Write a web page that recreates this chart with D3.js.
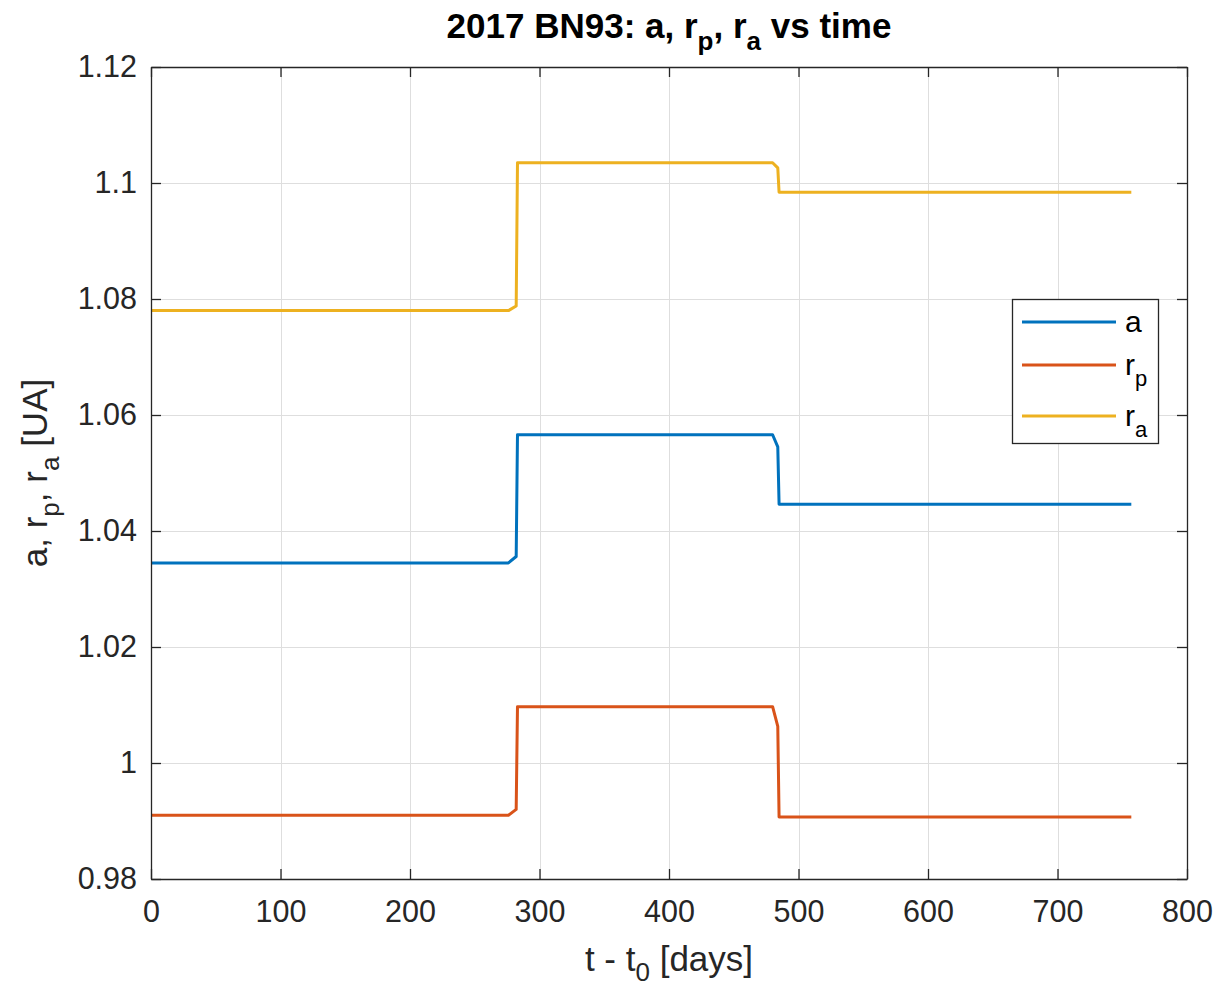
<!DOCTYPE html>
<html>
<head>
<meta charset="utf-8">
<script src="https://cdn.jsdelivr.net/npm/d3@7"></script>
<style>
  html, body { margin: 0; padding: 0; background: #fff; }
  svg { display: block; font-family: "Liberation Sans", Arial, Helvetica, sans-serif; }
</style>
</head>
<body>
<svg id="chart" width="1226" height="986"></svg>
<script>
// Time since epoch (days) at each breakpoint of the propagated orbit
const days = [0, 276, 282, 283, 480, 484, 485, 757];
// Semi-major axis a [UA]
const aVals  = [1.0345, 1.0345, 1.0356, 1.0566, 1.0566, 1.0545, 1.0446, 1.0446];
// Perihelion distance r_p [UA]
const rpVals = [0.9910, 0.9910, 0.9920, 1.0097, 1.0097, 1.0063, 0.9907, 0.9907];
// Aphelion distance r_a [UA]
const raVals = [1.0780, 1.0780, 1.0788, 1.1035, 1.1035, 1.1026, 1.0984, 1.0984];

const xTicks = [0, 100, 200, 300, 400, 500, 600, 700, 800];
const yTicks = [0.98, 1.00, 1.02, 1.04, 1.06, 1.08, 1.10, 1.12];
const yTickLabels = ["0.98", "1", "1.02", "1.04", "1.06", "1.08", "1.1", "1.12"];

const series = [
  { name: "a",  sub: null, values: aVals,  color: "#0072BD" },
  { name: "r",  sub: "p",  values: rpVals, color: "#D95319" },
  { name: "r",  sub: "a",  values: raVals, color: "#EDB120" }
];

const svg = d3.select("#chart");
const plot = { left: 151, right: 1187, top: 67, bottom: 879 };
const axisColor = "#262626";

const x = d3.scaleLinear().domain([0, 800]).range([plot.left, plot.right]);
const y = d3.scaleLinear().domain([0.98, 1.12]).range([plot.bottom, plot.top]);

// Grid
const grid = svg.append("g").attr("stroke", "#dedede").attr("stroke-width", 1);
grid.selectAll("line.gx").data(xTicks.slice(1, -1)).join("line")
  .attr("x1", d => Math.round(x(d)) + 0.5).attr("x2", d => Math.round(x(d)) + 0.5)
  .attr("y1", plot.top).attr("y2", plot.bottom);
grid.selectAll("line.gy").data(yTicks.slice(1, -1)).join("line")
  .attr("y1", d => Math.round(y(d)) + 0.5).attr("y2", d => Math.round(y(d)) + 0.5)
  .attr("x1", plot.left).attr("x2", plot.right);

// Series lines
const line = d3.line().x((d, i) => x(days[i])).y(d => y(d));
svg.append("g").selectAll("path").data(series).join("path")
  .attr("d", s => line(s.values))
  .attr("fill", "none")
  .attr("stroke", s => s.color)
  .attr("stroke-width", 3)
  .attr("stroke-linejoin", "round");

// Axes (box with inward ticks on all sides)
const tickLen = 10;
const xAxisB = d3.axisBottom(x).tickValues(xTicks).tickSizeInner(-tickLen).tickSizeOuter(0).tickPadding(21);
const xAxisT = d3.axisTop(x).tickValues(xTicks).tickSizeInner(-tickLen).tickSizeOuter(0).tickFormat("");
const yAxisL = d3.axisLeft(y).tickValues(yTicks).tickSizeInner(-tickLen).tickSizeOuter(0).tickPadding(14)
  .tickFormat((d, i) => yTickLabels[i]);
const yAxisR = d3.axisRight(y).tickValues(yTicks).tickSizeInner(-tickLen).tickSizeOuter(0).tickFormat("");

function styleAxis(g) {
  g.attr("font-family", null);
  g.select(".domain").attr("stroke", axisColor).attr("stroke-width", 1.3);
  g.selectAll(".tick line").attr("stroke", axisColor).attr("stroke-width", 1.3);
  g.selectAll(".tick text").attr("fill", axisColor).attr("font-size", 30.5);
}
svg.append("g").attr("transform", `translate(0,${plot.bottom})`).call(xAxisB).call(styleAxis);
svg.append("g").attr("transform", `translate(0,${plot.top})`).call(xAxisT).call(styleAxis);
svg.append("g").attr("transform", `translate(${plot.left},0)`).call(yAxisL).call(styleAxis);
svg.append("g").attr("transform", `translate(${plot.right},0)`).call(yAxisR).call(styleAxis);

// Title
const title = svg.append("text")
  .attr("x", (plot.left + plot.right) / 2).attr("y", 38)
  .attr("text-anchor", "middle").attr("font-weight", "bold")
  .attr("font-size", 35).attr("fill", "#000");
title.append("tspan").text("2017 BN93: a, r");
title.append("tspan").attr("dy", 12).attr("font-size", 26).text("p");
title.append("tspan").attr("dy", -12).text(", r");
title.append("tspan").attr("dy", 12).attr("font-size", 26).text("a");
title.append("tspan").attr("dy", -12).text(" vs time");

// X axis label
const xl = svg.append("text")
  .attr("x", (plot.left + plot.right) / 2).attr("y", 971)
  .attr("text-anchor", "middle").attr("font-size", 35).attr("fill", axisColor);
xl.append("tspan").text("t - t");
xl.append("tspan").attr("dy", 10).attr("font-size", 26).text("0");
xl.append("tspan").attr("dy", -10).text(" [days]");

// Y axis label
const yl = svg.append("text")
  .attr("transform", `translate(47,${(plot.top + plot.bottom) / 2}) rotate(-90)`)
  .attr("text-anchor", "middle").attr("font-size", 35).attr("fill", axisColor);
yl.append("tspan").text("a, r");
yl.append("tspan").attr("dy", 12).attr("font-size", 26).text("p");
yl.append("tspan").attr("dy", -12).text(", r");
yl.append("tspan").attr("dy", 12).attr("font-size", 26).text("a");
yl.append("tspan").attr("dy", -12).text(" [UA]");

// Legend
const legend = svg.append("g");
legend.append("rect")
  .attr("x", 1012.5).attr("y", 299.5).attr("width", 146).attr("height", 144)
  .attr("fill", "#fff").attr("stroke", axisColor).attr("stroke-width", 1.3);
const rowY = [322, 365, 416];
series.forEach((s, i) => {
  legend.append("line")
    .attr("x1", 1022).attr("x2", 1116).attr("y1", rowY[i]).attr("y2", rowY[i])
    .attr("stroke", s.color).attr("stroke-width", 3);
  const t = legend.append("text")
    .attr("x", 1125).attr("y", rowY[i] + 10)
    .attr("font-size", 30).attr("fill", "#000");
  t.append("tspan").text(s.name);
  if (s.sub) t.append("tspan").attr("dy", 11).attr("font-size", 22).text(s.sub);
});
</script>
</body>
</html>
